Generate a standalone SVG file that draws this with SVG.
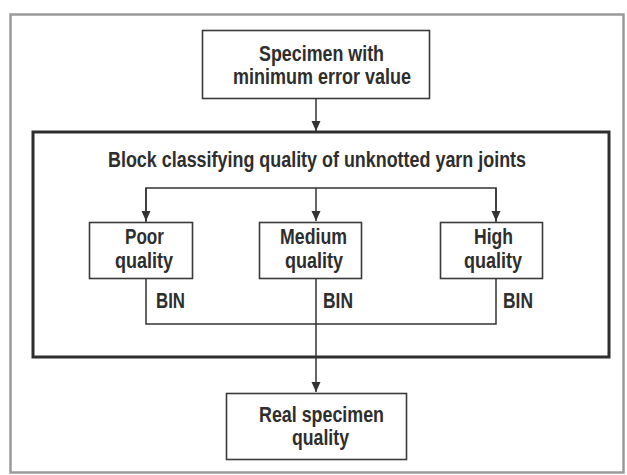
<svg xmlns="http://www.w3.org/2000/svg" width="627" height="475" viewBox="0 0 627 475">
  <style>
    .lbl { font-family: "Liberation Sans", Arial, sans-serif; font-weight: bold; font-size: 22px; fill: #2e2e2e; }
    .box { fill: #ffffff; stroke: #3a3a3a; stroke-width: 1.6; }
    .frame { fill: none; stroke: #9a9a9a; stroke-width: 2.5; }
    .block { fill: none; stroke: #2e2e2e; stroke-width: 3; }
    .wire { fill: none; stroke: #333333; stroke-width: 1.5; }
  </style>
  <defs>
    <marker id="arrow" viewBox="0 0 10 10" refX="10" refY="5" markerWidth="10" markerHeight="10" markerUnits="userSpaceOnUse" orient="auto">
      <path d="M0,0.5 L10,5 L0,9.5 Z" fill="#333333"/>
    </marker>
  </defs>

  <rect width="627" height="475" fill="#ffffff"/>

  <!-- outer frame -->
  <rect class="frame" x="10.5" y="14.5" width="613" height="458"/>

  <!-- classifying block -->
  <g id="classifier-block">
    <rect class="block" x="33" y="132" width="576" height="225"/>
    <text class="lbl" x="108" y="167" textLength="418" lengthAdjust="spacingAndGlyphs">Block classifying quality of unknotted yarn joints</text>
  </g>

  <!-- connectors -->
  <g id="connectors">
    <path class="wire" d="M316,98 V131" marker-end="url(#arrow)"/>
    <path class="wire" d="M146,222 V188 H496 V222"/>
    <path class="wire" d="M146,188 V221" marker-end="url(#arrow)"/>
    <path class="wire" d="M316,188 V221" marker-end="url(#arrow)"/>
    <path class="wire" d="M496,188 V221" marker-end="url(#arrow)"/>
    <path class="wire" d="M146,279 V324 H496 V279"/>
    <path class="wire" d="M316,279 V392" marker-end="url(#arrow)"/>
  </g>

  <g id="specimen-min-error">
    <rect class="box" x="202.5" y="30.5" width="227" height="68" stroke-width="2"/>
    <text class="lbl" x="259" y="61" textLength="125" lengthAdjust="spacingAndGlyphs">Specimen with</text>
    <text class="lbl" x="233" y="84" textLength="178" lengthAdjust="spacingAndGlyphs">minimum error value</text>
  </g>

  <g id="poor-quality">
    <rect class="box" x="89.5" y="222.5" width="103" height="56"/>
    <text class="lbl" x="125" y="244" textLength="39" lengthAdjust="spacingAndGlyphs">Poor</text>
    <text class="lbl" x="115" y="268" textLength="58" lengthAdjust="spacingAndGlyphs">quality</text>
    <text class="lbl" x="156" y="308" textLength="29" lengthAdjust="spacingAndGlyphs">BIN</text>
  </g>

  <g id="medium-quality">
    <rect class="box" x="259.5" y="222.5" width="102" height="56"/>
    <text class="lbl" x="280" y="244" textLength="67" lengthAdjust="spacingAndGlyphs">Medium</text>
    <text class="lbl" x="285" y="268" textLength="58" lengthAdjust="spacingAndGlyphs">quality</text>
    <text class="lbl" x="323" y="308" textLength="30" lengthAdjust="spacingAndGlyphs">BIN</text>
  </g>

  <g id="high-quality">
    <rect class="box" x="440.5" y="222.5" width="102" height="56"/>
    <text class="lbl" x="474" y="244" textLength="39" lengthAdjust="spacingAndGlyphs">High</text>
    <text class="lbl" x="464" y="268" textLength="58" lengthAdjust="spacingAndGlyphs">quality</text>
    <text class="lbl" x="503" y="308" textLength="30" lengthAdjust="spacingAndGlyphs">BIN</text>
  </g>

  <g id="real-specimen-quality">
    <rect class="box" x="226.5" y="393.5" width="180" height="66"/>
    <text class="lbl" x="259" y="422" textLength="125" lengthAdjust="spacingAndGlyphs">Real specimen</text>
    <text class="lbl" x="292" y="445" textLength="57" lengthAdjust="spacingAndGlyphs">quality</text>
  </g>
</svg>
